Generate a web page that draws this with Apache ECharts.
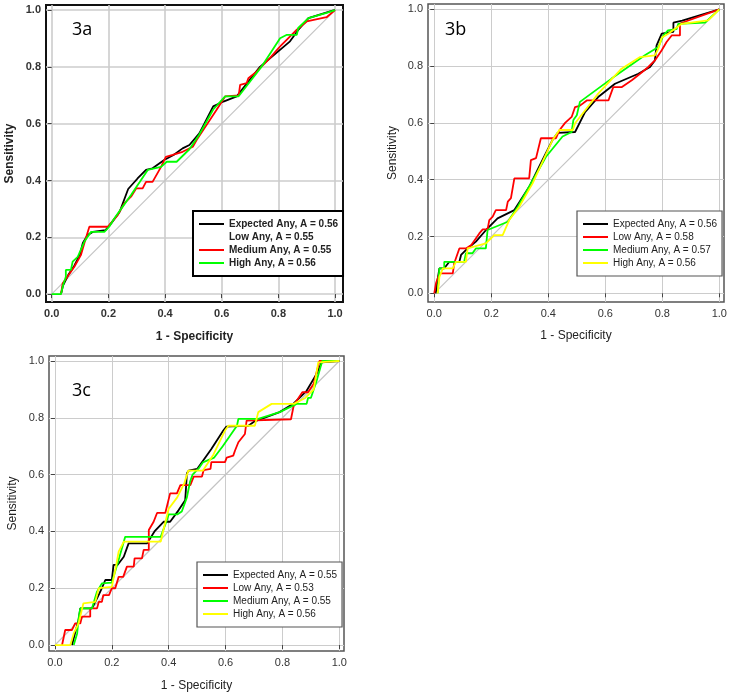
<!DOCTYPE html>
<html>
<head>
<meta charset="utf-8">
<script src="https://cdn.jsdelivr.net/npm/echarts@6/dist/echarts.min.js"></script>
<style>
  html, body { margin: 0; padding: 0; background: #fff; }
  #grafico-roc { width: 730px; height: 697px; }
</style>
</head>
<body>
<div id="grafico-roc"></div>
<script>
// valores (1 - especificidade, sensibilidade)
const tickValues = [0, 0.2, 0.4, 0.6, 0.8, 1.0];
const diagonal = [[0, 0], [1, 1]];
const panelLabels = ['3a', '3b', '3c'];
const xTitle = '1 - Specificity';
const yTitle = 'Sensitivity';

// 3a
const namesA = ['Expected Any, A = 0.56', 'Low Any, A = 0.55', 'Medium Any, A = 0.55', 'High Any, A = 0.56'];
const expectedA = [[0.033,0],[0.04,0.03],[0.06,0.07],[0.08,0.1],[0.1,0.14],[0.11,0.18],[0.127,0.208],[0.145,0.219],[0.19,0.225],[0.21,0.249],[0.24,0.29],[0.262,0.349],[0.27,0.37],[0.303,0.407],[0.333,0.437],[0.356,0.443],[0.397,0.472],[0.43,0.49],[0.462,0.513],[0.486,0.525],[0.521,0.566],[0.57,0.661],[0.606,0.678],[0.653,0.696],[0.735,0.8],[0.841,0.89],[0.87,0.93],[0.906,0.972],[0.994,0.999],[1,1]];
const lowA = [[0.035,0],[0.05,0.05],[0.08,0.1],[0.11,0.16],[0.14,0.22],[0.2,0.23],[0.26,0.33],[0.33,0.43],[0.4,0.47],[0.47,0.51],[0.52,0.57],[0.57,0.65],[0.62,0.69],[0.66,0.7],[0.74,0.8],[0.8,0.87],[0.87,0.93],[0.91,0.97],[1,1]];
const mediumA = [[0.033,0],[0.039,0.038],[0.055,0.06],[0.08,0.096],[0.103,0.137],[0.115,0.178],[0.133,0.237],[0.198,0.237],[0.233,0.278],[0.256,0.319],[0.28,0.343],[0.298,0.372],[0.321,0.372],[0.333,0.395],[0.356,0.395],[0.386,0.448],[0.403,0.483],[0.427,0.49],[0.462,0.501],[0.498,0.519],[0.512,0.543],[0.582,0.649],[0.612,0.696],[0.66,0.7],[0.665,0.737],[0.688,0.743],[0.694,0.76],[0.724,0.784],[0.77,0.831],[0.806,0.872],[0.83,0.896],[0.865,0.931],[0.9,0.96],[0.97,0.975],[1,1]];
const highA = [[0,0],[0.033,0],[0.04,0.03],[0.05,0.061],[0.05,0.085],[0.068,0.085],[0.074,0.114],[0.092,0.131],[0.115,0.184],[0.139,0.219],[0.186,0.219],[0.203,0.237],[0.221,0.266],[0.25,0.307],[0.28,0.349],[0.339,0.437],[0.386,0.448],[0.406,0.466],[0.441,0.466],[0.486,0.51],[0.52,0.56],[0.57,0.65],[0.612,0.696],[0.659,0.696],[0.74,0.8],[0.806,0.901],[0.83,0.913],[0.865,0.913],[0.87,0.937],[0.906,0.972],[0.97,0.99],[1,1]];

// 3b
const namesB = ['Expected Any, A = 0.56', 'Low Any, A = 0.58', 'Medium Any, A = 0.57', 'High Any, A = 0.56'];
const expectedB = [[0.005,0],[0.012,0.05],[0.018,0.088],[0.035,0.088],[0.053,0.111],[0.088,0.111],[0.094,0.135],[0.117,0.158],[0.146,0.182],[0.187,0.229],[0.222,0.264],[0.281,0.293],[0.333,0.375],[0.374,0.458],[0.415,0.54],[0.433,0.565],[0.494,0.568],[0.529,0.638],[0.575,0.691],[0.634,0.738],[0.716,0.773],[0.757,0.797],[0.774,0.82],[0.78,0.873],[0.798,0.914],[0.839,0.921],[0.839,0.953],[0.87,0.96],[1,1]];
const lowB = [[0,0],[0.006,0.035],[0.018,0.07],[0.065,0.07],[0.07,0.106],[0.088,0.158],[0.111,0.158],[0.13,0.17],[0.158,0.211],[0.17,0.225],[0.187,0.225],[0.193,0.258],[0.205,0.27],[0.216,0.293],[0.252,0.293],[0.258,0.323],[0.269,0.335],[0.281,0.405],[0.333,0.405],[0.339,0.469],[0.357,0.476],[0.374,0.546],[0.427,0.546],[0.439,0.574],[0.459,0.6],[0.482,0.621],[0.494,0.656],[0.51,0.66],[0.535,0.679],[0.611,0.679],[0.628,0.726],[0.657,0.726],[0.693,0.75],[0.722,0.773],[0.751,0.797],[0.774,0.82],[0.798,0.856],[0.815,0.885],[0.833,0.908],[0.862,0.908],[0.862,0.95],[1,1]];
const mediumB = [[0.012,0],[0.018,0.088],[0.035,0.088],[0.035,0.111],[0.105,0.111],[0.111,0.141],[0.134,0.141],[0.146,0.158],[0.181,0.158],[0.187,0.223],[0.258,0.252],[0.293,0.305],[0.392,0.481],[0.45,0.552],[0.482,0.568],[0.488,0.61],[0.5,0.627],[0.511,0.674],[0.622,0.756],[0.739,0.838],[0.786,0.867],[0.804,0.908],[0.82,0.926],[0.85,0.93],[0.856,0.949],[0.95,0.953],[1,1]];
const highB = [[0.012,0],[0.018,0.058],[0.023,0.07],[0.03,0.088],[0.065,0.088],[0.076,0.111],[0.111,0.111],[0.117,0.158],[0.181,0.176],[0.211,0.205],[0.24,0.205],[0.263,0.258],[0.298,0.305],[0.345,0.387],[0.415,0.54],[0.439,0.575],[0.486,0.575],[0.494,0.599],[0.575,0.703],[0.657,0.791],[0.722,0.832],[0.774,0.838],[0.786,0.861],[0.798,0.9],[0.821,0.914],[0.868,0.949],[0.961,0.961],[1,1]];

// 3c
const namesC = ['Expected Any, A = 0.55', 'Low Any, A = 0.53', 'Medium Any, A = 0.55', 'High Any, A = 0.56'];
const expectedC = [[0.06,0],[0.07,0.04],[0.083,0.088],[0.089,0.129],[0.13,0.129],[0.148,0.164],[0.165,0.2],[0.177,0.229],[0.2,0.229],[0.206,0.282],[0.22,0.282],[0.242,0.311],[0.259,0.358],[0.324,0.358],[0.35,0.4],[0.382,0.434],[0.405,0.434],[0.435,0.475],[0.458,0.51],[0.46,0.54],[0.464,0.605],[0.47,0.614],[0.5,0.62],[0.55,0.69],[0.592,0.755],[0.603,0.769],[0.62,0.77],[0.68,0.772],[0.7,0.786],[0.79,0.82],[0.838,0.849],[0.885,0.895],[0.92,0.954],[0.938,0.995],[0.94,1],[1,1]];
const lowC = [[0.025,0],[0.036,0.053],[0.06,0.053],[0.071,0.076],[0.089,0.076],[0.095,0.1],[0.124,0.1],[0.124,0.129],[0.148,0.129],[0.154,0.152],[0.165,0.152],[0.17,0.176],[0.19,0.176],[0.2,0.2],[0.212,0.2],[0.224,0.24],[0.24,0.24],[0.253,0.276],[0.277,0.276],[0.28,0.305],[0.306,0.305],[0.312,0.335],[0.33,0.335],[0.33,0.405],[0.347,0.434],[0.359,0.465],[0.388,0.465],[0.405,0.534],[0.429,0.534],[0.441,0.563],[0.476,0.563],[0.488,0.593],[0.517,0.593],[0.523,0.616],[0.547,0.62],[0.55,0.644],[0.598,0.644],[0.604,0.66],[0.627,0.667],[0.633,0.684],[0.645,0.714],[0.668,0.743],[0.674,0.79],[0.83,0.795],[0.84,0.845],[0.87,0.89],[0.89,0.89],[0.91,0.92],[0.93,1],[1,1]];
const mediumC = [[0.066,0],[0.078,0.041],[0.083,0.094],[0.089,0.129],[0.13,0.129],[0.148,0.188],[0.165,0.217],[0.2,0.22],[0.224,0.3],[0.247,0.381],[0.372,0.381],[0.39,0.43],[0.4,0.46],[0.43,0.46],[0.446,0.47],[0.464,0.52],[0.475,0.575],[0.484,0.6],[0.504,0.62],[0.52,0.643],[0.56,0.66],[0.59,0.7],[0.64,0.772],[0.645,0.796],[0.715,0.796],[0.79,0.82],[0.85,0.849],[0.885,0.849],[0.89,0.87],[0.9,0.87],[0.92,0.93],[0.94,1],[1,1]];
const highC = [[0,0],[0.054,0],[0.066,0.041],[0.083,0.076],[0.1,0.147],[0.142,0.152],[0.154,0.2],[0.2,0.205],[0.212,0.264],[0.224,0.329],[0.242,0.364],[0.372,0.364],[0.385,0.42],[0.4,0.48],[0.43,0.52],[0.455,0.57],[0.469,0.614],[0.52,0.614],[0.557,0.67],[0.598,0.755],[0.61,0.772],[0.703,0.772],[0.715,0.82],[0.762,0.849],[0.84,0.849],[0.88,0.87],[0.91,0.9],[0.926,0.995],[0.93,1],[1,1]];

const FONT = '"Liberation Sans", Arial, sans-serif';
const LEGEND_ICON = 'path://M0,0 L25,0 L25,2 L0,2 Z';

// layout de cada painel (pixels e estilos)
const paineis = [
    {
        label: panelLabels[0], labelPos: [72, 21],
        grid: { left: 46, top: 5, width: 297, height: 297 },
        xRange: [-0.02, 1.028], yRange: [-0.028, 1.018],
        names: namesA, curves: [expectedA, lowA, mediumA, highA],
        colors: ['#000000', '#ffffff', '#ff0000', '#00ff00'],
        bold: true, frame: '#111', frameWidth: 2, splitWidth: 1.6,
        legendPos: [193, 211], legendBorder: '#000', legendBorderWidth: 2,
        nameGapX: 29, nameGapY: 30
    },
    {
        label: panelLabels[1], labelPos: [445, 21],
        grid: { left: 428, top: 4, width: 296, height: 298 },
        xRange: [-0.022, 1.0165], yRange: [-0.0306, 1.0187],
        names: namesB, curves: [expectedB, lowB, mediumB, highB],
        colors: ['#000000', '#ff0000', '#00ff00', '#ffff00'],
        bold: false, frame: '#555', frameWidth: 1.5, splitWidth: 1,
        legendPos: [577, 211], legendBorder: '#555', legendBorderWidth: 1.2,
        nameGapX: 28, nameGapY: 29
    },
    {
        label: panelLabels[2], labelPos: [72, 382],
        grid: { left: 49, top: 356, width: 295, height: 295 },
        xRange: [-0.021, 1.0165], yRange: [-0.021, 1.0176],
        names: namesC, curves: [expectedC, lowC, mediumC, highC],
        colors: ['#000000', '#ff0000', '#00ff00', '#ffff00'],
        bold: false, frame: '#555', frameWidth: 1.5, splitWidth: 1,
        legendPos: [197, 562], legendBorder: '#555', legendBorderWidth: 1.2,
        nameGapX: 29, nameGapY: 30
    }
];

function montarEixo(i, p, isX) {
    const range = isX ? p.xRange : p.yRange;
    return {
        gridIndex: i,
        type: 'value',
        min: range[0],
        max: range[1],
        name: isX ? xTitle : yTitle,
        nameLocation: 'middle',
        nameGap: isX ? p.nameGapX : p.nameGapY,
        nameTextStyle: { fontFamily: FONT, fontSize: 12, fontWeight: p.bold ? 'bold' : 'normal', color: '#222' },
        axisLine: { show: false },
        axisTick: { show: true, customValues: tickValues, length: 4, lineStyle: { color: '#444' } },
        axisLabel: {
            customValues: tickValues,
            formatter: v => v.toFixed(1),
            fontFamily: FONT, fontSize: 11,
            fontWeight: p.bold ? 'bold' : 'normal',
            color: '#333', margin: isX ? 6 : 5
        },
        splitLine: { show: true, lineStyle: { color: '#cccccc', width: p.splitWidth } }
    };
}

function renderGraficoRoc() {
    const chartDom = document.getElementById('grafico-roc');
    const myChart = echarts.init(chartDom, null, { renderer: 'canvas' });

    const grid = [], xAxis = [], yAxis = [], legend = [], title = [], series = [];

    paineis.forEach((p, i) => {
        grid.push(Object.assign({ show: true, borderColor: p.frame, borderWidth: p.frameWidth, backgroundColor: '#fff' }, p.grid));
        xAxis.push(montarEixo(i, p, true));
        yAxis.push(montarEixo(i, p, false));
        title.push({
            text: p.label, left: p.labelPos[0], top: p.labelPos[1], padding: 0,
            textStyle: { fontFamily: '"Open Sans", sans-serif', fontSize: 18, fontWeight: 'normal', color: '#000' }
        });

        // linha de referência
        series.push({
            type: 'line', xAxisIndex: i, yAxisIndex: i, data: diagonal,
            symbol: 'none', silent: true, z: 1.5,
            lineStyle: { color: '#c4c4c4', width: 1.2 }
        });

        p.curves.forEach((curve, k) => {
            const white = p.colors[k] === '#ffffff';
            series.push({
                name: p.names[k], type: 'line', xAxisIndex: i, yAxisIndex: i,
                data: curve, symbol: 'none', z: white ? 1 : 2,
                lineStyle: { color: p.colors[k], width: 1.8 },
                itemStyle: { color: p.colors[k] }
            });
        });

        legend.push({
            data: p.names.map((n, k) => ({ name: n, icon: LEGEND_ICON, itemStyle: { color: p.colors[k], borderWidth: 0 } })),
            left: p.legendPos[0], top: p.legendPos[1],
            orient: 'vertical', selectedMode: false,
            itemWidth: 25, itemHeight: 12, itemGap: 3,
            padding: [8, 5, 8, 6],
            backgroundColor: '#fff', borderColor: p.legendBorder, borderWidth: p.legendBorderWidth, borderRadius: 0,
            textStyle: { fontFamily: FONT, fontSize: 10, fontWeight: p.bold ? 'bold' : 'normal', color: '#222' }
        });
    });

    const option = {
        animation: false,
        backgroundColor: '#fff',
        title, grid, xAxis, yAxis, legend, series
    };
    myChart.setOption(option);
}

document.addEventListener('DOMContentLoaded', () => {
    renderGraficoRoc();
});
</script>
</body>
</html>
